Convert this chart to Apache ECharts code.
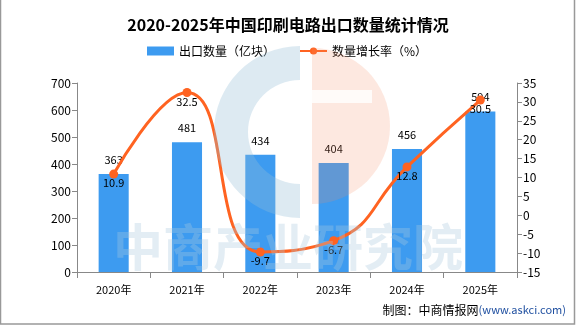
<!DOCTYPE html>
<html><head><meta charset="utf-8">
<script src="https://cdn.jsdelivr.net/npm/echarts@6/dist/echarts.min.js"></script>
<style>html,body{margin:0;padding:0;background:#fff}#c{width:576px;height:327px}</style>
</head><body><div id="c"></div>
<script>
var categories = ['2020年','2021年','2022年','2023年','2024年','2025年'];
var exportVolume = [363, 481, 434, 404, 456, 594];
var growthRate = [10.9, 32.5, -9.7, -6.7, 12.8, 30.5];
var titleText = '2020-2025年中国印刷电路出口数量统计情况';
var barName = '出口数量（亿块）';
var lineName = '数量增长率（%）';

var font = '"Noto Sans CJK SC", "DejaVu Sans", sans-serif';
var chart = echarts.init(document.getElementById('c'));
chart.setOption({
  animation: false,
  backgroundColor: '#fff',
  textStyle: {fontFamily: font},
  title: {text: titleText, left: 'center', top: 12,
    textStyle: {fontSize: 16, fontWeight: 'bold', color: '#000', fontFamily: font}},
  legend: {top: 40, left: 142, itemGap: 24, itemWidth: 27, itemHeight: 9,
    textStyle: {fontSize: 12, color: '#000', padding: [0, 0, 0, 0]},
    data: [{name: barName, icon: 'rect'}, {name: lineName}]},
  grid: {left: 77, right: 59, top: 83, bottom: 55},
  xAxis: {type: 'category', data: categories,
    axisLine: {lineStyle: {color: '#888'}},
    axisTick: {show: true, length: 6, lineStyle: {color: '#888'}},
    axisLabel: {color: '#000', fontSize: 11, margin: 12}},
  yAxis: [
    {type: 'value', min: 0, max: 700, interval: 100, splitLine: {show: false},
      axisLine: {show: true, lineStyle: {color: '#888'}},
      axisTick: {show: true, length: 5, lineStyle: {color: '#888'}},
      axisLabel: {color: '#000', fontSize: 12, margin: 6}},
    {type: 'value', min: -15, max: 35, interval: 5, splitLine: {show: false},
      axisLine: {show: true, lineStyle: {color: '#888'}},
      axisTick: {show: true, length: 5, lineStyle: {color: '#888'}},
      axisLabel: {color: '#000', fontSize: 12, margin: 6}}
  ],
  series: [
    {name: barName, type: 'bar', data: exportVolume, barWidth: '41%',
      itemStyle: {color: '#3D9BF0'},
      label: {show: true, position: 'top', distance: 9, color: '#000', fontSize: 11}},
    {name: lineName, type: 'line', yAxisIndex: 1, data: growthRate, smooth: 0.5,
      symbol: 'circle', symbolSize: 9,
      lineStyle: {color: '#FF6321', width: 3}, itemStyle: {color: '#FF6321'},
      label: {show: true, position: 'bottom', distance: -1, color: '#000', fontSize: 11}}
  ],
  graphic: [
    {type: 'rect', z: 100, shape: {x: 0.5, y: -1, width: 574, height: 325},
      style: {fill: 'none', stroke: '#999', lineWidth: 1.5}},
    {type: 'sector', z: 50, silent: true,
      shape: {cx: 300, cy: 132, r: 86, r0: 52, startAngle: Math.PI * 0.5, endAngle: Math.PI * 1.5},
      style: {fill: 'rgba(150,190,215,0.32)'}},
    {type: 'sector', z: 50, silent: true,
      shape: {cx: 312, cy: 126, r: 78, r0: 0, startAngle: -Math.PI * 0.5, endAngle: Math.PI * 0.5},
      style: {fill: 'rgba(245,140,100,0.2)'}},
    {type: 'rect', z: 51, silent: true, shape: {x: 312, y: 90, width: 60, height: 13},
      style: {fill: 'rgba(255,255,255,0.8)'}},
    {type: 'text', z: 52, silent: true, left: 113, top: 222,
      style: {text: '中商产业研究院', fontSize: 50, fontWeight: 'bold', fontFamily: font,
        fill: 'rgba(170,200,222,0.33)'}},
    {type: 'text', z: 60, right: 10, top: 304,
      style: {text: '{a|制图：中商情报网}{b|(www.askci.com)}',
        rich: {a: {fontSize: 12, fill: '#000', fontFamily: font},
               b: {fontSize: 11, fill: '#1F4FA0', fontFamily: font}}}}
  ]
});
</script></body></html>
